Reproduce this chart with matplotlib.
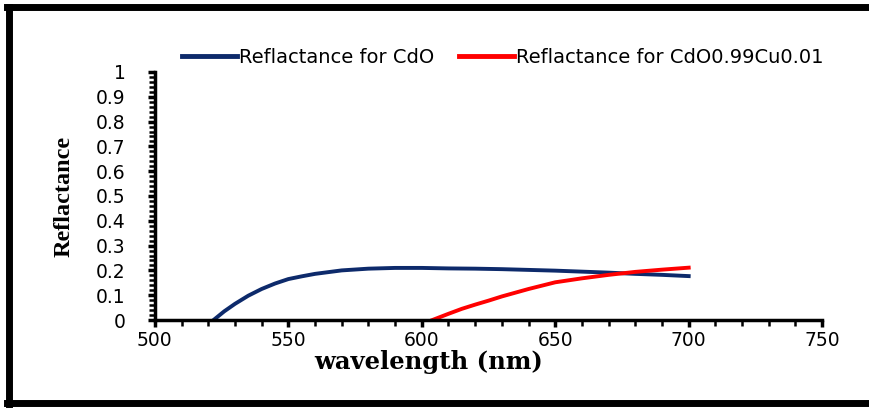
import matplotlib
matplotlib.use('Agg')
import matplotlib.pyplot as plt
from matplotlib.lines import Line2D
from matplotlib.ticker import MultipleLocator

# reflectance curves
wl_cdo = [522, 526, 530, 535, 540, 545, 550, 555, 560, 570, 580, 590, 600, 610, 620,
          630, 640, 650, 660, 670, 680, 690, 700]
r_cdo = [0.0, 0.035, 0.065, 0.098, 0.125, 0.147, 0.165, 0.176, 0.186, 0.200, 0.207,
         0.210, 0.210, 0.208, 0.207, 0.205, 0.202, 0.199, 0.195, 0.191, 0.186, 0.182, 0.177]
wl_cu = [604, 610, 615, 620, 625, 630, 640, 650, 660, 670, 680, 690, 700]
r_cu = [0.0, 0.025, 0.045, 0.062, 0.078, 0.095, 0.125, 0.152, 0.168, 0.182, 0.194,
        0.203, 0.211]
labels = ['Reflactance for CdO', 'Reflactance for CdO0.99Cu0.01']
colors = ['#0d2a6b', '#ff0000']
yticks = [i / 10 for i in range(11)]
ytick_labels = ['0', '0.1', '0.2', '0.3', '0.4', '0.5', '0.6', '0.7', '0.8', '0.9', '1']

fig = plt.figure(figsize=(8.7, 4.09), dpi=100)
ax = fig.add_axes([0.178, 0.2176, 0.767, 0.6064])

ax.plot(wl_cdo, r_cdo, color=colors[0], lw=2.8)
ax.plot(wl_cu, r_cu, color=colors[1], lw=2.8)

ax.set_xlim(500, 750)
ax.set_ylim(0, 1)
ax.xaxis.set_major_locator(MultipleLocator(50))
ax.xaxis.set_minor_locator(MultipleLocator(10))
ax.yaxis.set_minor_locator(MultipleLocator(0.02))
ax.set_yticks(yticks)
ax.set_yticklabels(ytick_labels)

for s in ['top', 'right']:
    ax.spines[s].set_visible(False)
for s in ['left', 'bottom']:
    ax.spines[s].set_linewidth(2.5)

ax.tick_params(axis='both', which='major', direction='out', length=5, width=2.5,
               labelsize=13.5, colors='black')
ax.tick_params(axis='both', which='minor', direction='out', length=4, width=1.8)
ax.tick_params(axis='x', pad=3)
ax.tick_params(axis='y', pad=16)

ax.set_xlabel('wavelength (nm)', fontsize=17.5, fontweight='bold',
              family='DejaVu Serif', va='center')
ax.xaxis.set_label_coords(0.41, -0.168)
ax.set_ylabel('Reflactance', fontsize=17.5, fontweight='bold',
              family='Liberation Serif', va='center')
ax.yaxis.set_label_coords(-0.136, 0.5)

handles = [Line2D([0], [0], color=c, lw=3.5) for c in colors]
fig.legend(handles, labels, loc='center', bbox_to_anchor=(0.578, 0.86), ncol=2,
           frameon=False, fontsize=14, handlelength=2.8, handletextpad=0.1,
           columnspacing=1.3)

# thick frame round the figure (right side runs off the picture)
fig.add_artist(Line2D([0.0103, 0.0103], [0.012, 0.982], color='black', lw=5,
                      transform=fig.transFigure))
fig.add_artist(Line2D([0.008, 1.0], [0.982, 0.982], color='black', lw=5,
                      transform=fig.transFigure))
fig.add_artist(Line2D([0.008, 1.0], [0.0147, 0.0147], color='black', lw=5,
                      transform=fig.transFigure))

fig.savefig('out.png', dpi=100)
